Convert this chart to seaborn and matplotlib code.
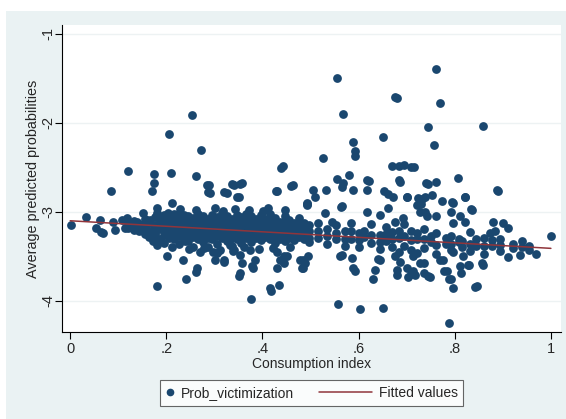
import numpy as np
import pandas as pd
import matplotlib
matplotlib.use("Agg")
import matplotlib.pyplot as plt
import seaborn as sns
from matplotlib.lines import Line2D
from matplotlib.patches import Rectangle
from matplotlib.legend_handler import HandlerLine2D

# Points near x = 0 (left end of the cloud)
early_x = [0.002, 0.033, 0.053, 0.064, 0.068, 0.062, 0.089, 0.094, 0.107, 0.118,
           0.114, 0.128, 0.139, 0.146, 0.152, 0.149, 0.158, 0.166, 0.173, 0.177,
           0.180, 0.180, 0.183, 0.194, 0.204, 0.215, 0.222, 0.229, 0.236, 0.239]
early_y = [-3.15, -3.06, -3.18, -3.23, -3.24, -3.09, -3.11, -3.20, -3.09, -3.07,
           -3.18, -3.15, -3.11, -3.16, -3.01, -3.20, -3.09, -3.09, -3.20, -3.26,
           -2.96, -3.01, -3.05, -3.13, -3.01, -3.09, -3.17, -3.05, -3.24, -3.33]

# Dense band around the fitted line, read column by column
band_cols = [0.120, 0.132, 0.143, 0.155, 0.165, 0.176, 0.186, 0.196, 0.206, 0.216,
             0.226, 0.236, 0.246, 0.256, 0.266, 0.276, 0.286, 0.296, 0.306, 0.316,
             0.326, 0.336, 0.346, 0.356, 0.366, 0.376, 0.386, 0.396, 0.406, 0.416,
             0.426, 0.436, 0.446, 0.456, 0.466, 0.476, 0.486, 0.496, 0.515, 0.535,
             0.552, 0.571, 0.584, 0.600, 0.612, 0.625, 0.645, 0.657, 0.670, 0.684,
             0.695, 0.708, 0.722, 0.735, 0.750, 0.760, 0.781, 0.792, 0.808, 0.815,
             0.832, 0.845, 0.860, 0.878, 0.895, 0.922, 0.940, 0.955]
band_vals = [
    [-3.12, -3.18], [-3.10, -3.20], [-3.14, -3.22], [-3.08, -3.17, -3.25],
    [-3.12, -3.21, -3.28], [-3.06, -3.15, -3.24], [-3.10, -3.19, -3.30],
    [-3.04, -3.11, -3.18, -3.26, -3.35], [-3.08, -3.15, -3.22, -3.29],
    [-3.02, -3.10, -3.17, -3.24, -3.31], [-3.06, -3.13, -3.20, -3.27, -3.36],
    [-3.03, -3.10, -3.17, -3.24, -3.30], [-3.05, -3.13, -3.19, -3.26, -3.33],
    [-3.07, -3.14, -3.21, -3.28, -3.39], [-3.02, -3.09, -3.16, -3.23, -3.30],
    [-3.05, -3.12, -3.19, -3.26, -3.34], [-3.08, -3.15, -3.22, -3.29, -3.40],
    [-3.03, -3.10, -3.17, -3.24, -3.31], [-3.06, -3.13, -3.20, -3.27, -3.36],
    [-3.01, -3.09, -3.16, -3.23, -3.29], [-3.05, -3.12, -3.19, -3.26, -3.33],
    [-3.08, -3.15, -3.22, -3.29, -3.38], [-3.03, -3.10, -3.17, -3.24, -3.31],
    [-3.06, -3.13, -3.20, -3.27, -3.35], [-3.02, -3.09, -3.16, -3.23, -3.29],
    [-3.05, -3.12, -3.19, -3.26, -3.34], [-3.08, -3.15, -3.22, -3.29],
    [-3.04, -3.11, -3.18, -3.25, -3.32], [-3.08, -3.15, -3.22, -3.28],
    [-3.02, -3.10, -3.17, -3.24, -3.30], [-3.07, -3.14, -3.21, -3.28, -3.35],
    [-3.11, -3.18, -3.25, -3.31], [-3.05, -3.12, -3.19, -3.26, -3.33],
    [-3.09, -3.16, -3.23, -3.29], [-3.13, -3.20, -3.27, -3.32],
    [-3.07, -3.15, -3.22, -3.28], [-3.12, -3.19, -3.26, -3.31],
    [-3.15, -3.22, -3.29, -3.34], [-3.12, -3.22, -3.29], [-3.19, -3.27, -3.36],
    [-3.15, -3.24, -3.31], [-3.21, -3.30, -3.38], [-3.13, -3.22, -3.30],
    [-3.24, -3.32, -3.40], [-3.21, -3.28], [-3.14, -3.26, -3.35],
    [-3.26, -3.34, -3.42], [-3.17, -3.25, -3.33], [-3.23, -3.31, -3.40],
    [-3.21, -3.29, -3.45], [-3.14, -3.27, -3.38], [-3.22, -3.32, -3.43],
    [-3.24, -3.30], [-3.19, -3.31, -3.41], [-3.27, -3.34], [-3.24, -3.37, -3.47],
    [-3.29, -3.36], [-3.27, -3.36, -3.43], [-3.30, -3.34], [-3.33, -3.40],
    [-3.23, -3.36, -3.44], [-3.31, -3.38], [-3.29, -3.38, -3.47], [-3.32, -3.38],
    [-3.30, -3.37, -3.44], [-3.36, -3.41], [-3.33, -3.39], [-3.38, -3.43],
]

# Points above the band
upper_x = [0.760, 0.555, 0.676, 0.679, 0.769, 0.254, 0.567, 0.858, 0.745, 0.206,
           0.651, 0.756, 0.588, 0.592, 0.593, 0.273, 0.526, 0.443, 0.438, 0.670,
           0.683, 0.694, 0.709, 0.716, 0.120, 0.210, 0.175, 0.262, 0.581, 0.807,
           0.555, 0.567, 0.617, 0.621, 0.684, 0.741, 0.761, 0.336, 0.354, 0.284,
           0.175, 0.460, 0.084, 0.171, 0.287, 0.321, 0.429, 0.506, 0.532, 0.889,
           0.822, 0.701, 0.652, 0.662, 0.672, 0.724, 0.773, 0.795, 0.493, 0.348,
           0.564, 0.729, 0.833, 0.212, 0.288, 0.291, 0.326, 0.340, 0.357, 0.352,
           0.430, 0.464, 0.492, 0.509, 0.492, 0.565, 0.589, 0.565, 0.617, 0.686,
           0.700, 0.721, 0.738, 0.530, 0.544, 0.617, 0.644, 0.662, 0.676, 0.693,
           0.728, 0.742, 0.745, 0.731, 0.738, 0.752, 0.797, 0.821, 0.835, 0.887,
           0.762, 0.793, 0.811, 0.821, 0.797, 0.880, 0.901, 0.911, 0.873, 0.884,
           0.228, 0.262, 0.301, 0.318, 0.343, 0.371, 0.402, 0.412, 0.447]
upper_y = [-1.40, -1.50, -1.71, -1.72, -1.78, -1.91, -1.90, -2.04, -2.05, -2.13,
           -2.16, -2.25, -2.21, -2.32, -2.37, -2.30, -2.40, -2.48, -2.51, -2.49,
           -2.48, -2.47, -2.50, -2.50, -2.54, -2.56, -2.58, -2.60, -2.59, -2.62,
           -2.63, -2.68, -2.64, -2.65, -2.64, -2.68, -2.66, -2.69, -2.69, -2.70,
           -2.68, -2.71, -2.77, -2.77, -2.78, -2.78, -2.77, -2.75, -2.75, -2.76,
           -2.83, -2.83, -2.77, -2.80, -2.83, -2.84, -2.88, -2.89, -2.91, -2.83,
           -2.94, -2.91, -2.97, -2.90, -2.70, -2.79, -2.79, -2.70, -2.68, -2.83,
           -2.77, -2.70, -2.92, -2.83, -2.90, -2.72, -2.75, -2.93, -2.75, -2.66,
           -2.83, -2.92, -2.83, -3.01, -3.11, -3.00, -3.03, -2.96, -3.11, -3.07,
           -3.00, -3.05, -2.69, -2.85, -3.00, -2.81, -2.90, -2.83, -2.98, -2.75,
           -3.05, -3.00, -3.05, -3.11, -3.13, -3.11, -3.13, -3.18, -3.24, -3.22,
           -2.97, -2.98, -2.96, -2.99, -2.97, -2.98, -2.99, -2.96, -2.98]

# Points below the band
lower_x = [0.788, 0.558, 0.603, 0.650, 0.376, 0.418, 0.434, 0.180, 0.846, 0.797,
           0.788, 0.630, 0.240, 0.261, 0.351, 0.353, 0.482, 0.589, 0.592, 0.679,
           0.709, 0.714, 0.745, 0.777, 0.814, 0.829, 0.858, 0.378, 0.385, 0.445,
           0.445, 0.235, 0.201, 0.302, 0.321, 0.562, 0.641, 0.714, 0.770, 0.910,
           0.970, 0.935, 0.173, 0.180, 0.270, 0.298, 0.305, 0.319, 0.263, 0.333,
           0.340, 0.353, 0.357, 0.374, 0.381, 0.430, 0.437, 0.451, 0.430, 0.478,
           0.489, 0.416, 0.485, 0.495, 0.485, 0.565, 0.586, 0.634, 0.644, 0.676,
           0.686, 0.679, 0.700, 0.703, 0.728, 0.735, 0.721, 0.735, 0.717, 0.748,
           0.776, 0.783, 0.793, 0.811, 0.828, 0.856, 0.842, 0.797, 0.818, 1.000,
           0.212, 0.248, 0.279, 0.311, 0.338, 0.362, 0.392, 0.421, 0.458]
lower_y = [-4.25, -4.03, -4.09, -4.08, -3.98, -3.89, -3.82, -3.83, -3.83, -3.86,
           -3.76, -3.75, -3.75, -3.68, -3.72, -3.69, -3.63, -3.63, -3.67, -3.71,
           -3.70, -3.66, -3.72, -3.66, -3.69, -3.60, -3.60, -3.61, -3.54, -3.58,
           -3.50, -3.54, -3.50, -3.54, -3.56, -3.50, -3.53, -3.50, -3.54, -3.51,
           -3.47, -3.49, -3.33, -3.37, -3.45, -3.45, -3.46, -3.54, -3.63, -3.37,
           -3.43, -3.48, -3.58, -3.43, -3.63, -3.45, -3.54, -3.50, -3.63, -3.54,
           -3.58, -3.85, -3.54, -3.50, -3.63, -3.48, -3.52, -3.65, -3.54, -3.50,
           -3.56, -3.65, -3.63, -3.73, -3.58, -3.69, -3.46, -3.58, -3.71, -3.73,
           -3.54, -3.67, -3.76, -3.61, -3.60, -3.58, -3.84, -3.45, -3.50, -3.27,
           -3.40, -3.42, -3.41, -3.43, -3.44, -3.40, -3.42, -3.41, -3.40]

# Fitted values line
fit_x = [0.0, 1.0]
fit_y = [-3.10, -3.41]

xtick_vals = [0, 0.2, 0.4, 0.6, 0.8, 1]
xtick_labels = ["0", ".2", ".4", ".6", ".8", "1"]
ytick_vals = [-1, -2, -3, -4]
ytick_labels = ["-1", "-2", "-3", "-4"]

band_x = [c for c, vals in zip(band_cols, band_vals) for _ in vals]
band_y = [v for vals in band_vals for v in vals]

df = pd.DataFrame({
    "consumption": early_x + band_x + upper_x + lower_x,
    "prob": early_y + band_y + upper_y + lower_y,
})


class LongLine(HandlerLine2D):
    # stretch the fitted-values sample to the left, into the column gap
    def create_artists(self, legend, orig_handle, xdescent, ydescent, width,
                       height, fontsize, trans):
        ext = 3.2 * fontsize
        y = (height - ydescent) / 2.0
        line = Line2D([-xdescent - ext, width - xdescent], [y, y],
                      color=orig_handle.get_color(), lw=orig_handle.get_linewidth())
        line.set_transform(trans)
        return [line]


sns.set_style("white")
plt.rcParams["font.family"] = ["Liberation Sans", "DejaVu Sans"]

navy = "#1a476f"
maroon = "#90353b"

fig = plt.figure(figsize=(5.66, 4.19), dpi=100)
fig.patch.set_facecolor("white")
bg = Rectangle((6 / 566, 0), 1, 1 - 11 / 419, transform=fig.transFigure,
               facecolor="#eaf2f3", edgecolor="none", zorder=-10)
fig.add_artist(bg)

ax = fig.add_axes([62 / 566, 1 - 332 / 419, (561 - 62) / 566, (332 - 25) / 419])
ax.set_facecolor("white")
ax.yaxis.grid(True, color="#edf2f3", lw=1.0)
ax.set_axisbelow(True)

sns.scatterplot(data=df, x="consumption", y="prob", color=navy, s=40,
                linewidth=0, ax=ax, legend=False, zorder=2)
sns.lineplot(x=fit_x, y=fit_y, color=maroon, lw=1.1, ax=ax, zorder=3)

ax.set_xlim(-0.017, 1.021)
ax.set_ylim(-4.35, -0.90)
ax.set_xticks(xtick_vals)
ax.set_xticklabels(xtick_labels)
ax.set_yticks(ytick_vals)
ax.set_yticklabels(ytick_labels, rotation=90, va="center")
ax.tick_params(axis="both", direction="out", length=5, width=0.8, color="black",
               labelsize=10.5, left=True, bottom=True)
ax.tick_params(axis="x", pad=2)
ax.tick_params(axis="y", pad=0)
ax.set_xlabel("Consumption index", fontsize=10, labelpad=1)
ax.set_ylabel("Average predicted probabilities", fontsize=10.4, labelpad=0.5)

for side in ["top", "right"]:
    ax.spines[side].set_visible(False)
for side in ["left", "bottom"]:
    ax.spines[side].set_color("black")
    ax.spines[side].set_linewidth(0.8)

dot_handle = Line2D([], [], marker="o", color=navy, linestyle="none", markersize=4.5)
fit_handle = Line2D([], [], color=maroon, lw=1.1)
leg = fig.legend([dot_handle, fit_handle], ["Prob_victimization", "Fitted values"],
                 loc="center", bbox_to_anchor=(311.5 / 566, 1 - 393 / 419), ncol=2,
                 fontsize=10, frameon=True, fancybox=False, edgecolor="#404040",
                 handlelength=0.6, columnspacing=5.0, handletextpad=0.5,
                 borderpad=0.4, handler_map={fit_handle: LongLine()})
leg.get_frame().set_linewidth(0.8)
leg.get_frame().set_facecolor("white")

fig.savefig("out.png", dpi=100, facecolor=fig.get_facecolor())
